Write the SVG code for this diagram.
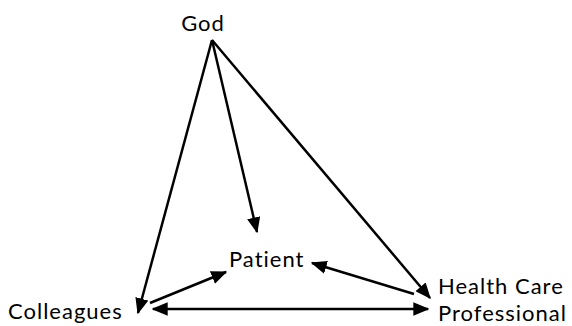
<svg xmlns="http://www.w3.org/2000/svg" width="572" height="326" viewBox="0 0 572 326">
<style>
text{font-family:"Lato","Open Sans","Liberation Sans",sans-serif;font-size:22px;letter-spacing:1px;fill:#000}
.c{stroke:#000;stroke-width:2.5;fill:none}
</style>
<defs>
<marker id="ah" viewBox="0 0 12 10" refX="11" refY="5" markerWidth="6.4" markerHeight="5.4" orient="auto-start-reverse" markerUnits="strokeWidth">
<path d="M0,0L12,5L0,10z" fill="#000"/>
</marker>
</defs>
<rect width="572" height="326" fill="#fff"/>
<g id="connectors">
<line class="c" x1="212" y1="40" x2="138" y2="313" marker-end="url(#ah)"/>
<line class="c" x1="212" y1="40" x2="257" y2="232" marker-end="url(#ah)"/>
<line class="c" x1="212" y1="40" x2="430" y2="298" marker-end="url(#ah)"/>
<line class="c" x1="150" y1="303" x2="226" y2="272" marker-end="url(#ah)"/>
<line class="c" x1="414" y1="294" x2="312" y2="263" marker-end="url(#ah)"/>
<line class="c" x1="153" y1="309" x2="428" y2="309" marker-start="url(#ah)" marker-end="url(#ah)"/>
</g>
<g id="god"><text x="203" y="31" text-anchor="middle">God</text></g>
<g id="patient"><text x="229" y="267">Patient</text></g>
<g id="colleagues"><text x="8" y="319">Colleagues</text></g>
<g id="hcp"><text x="438" y="294">Health Care</text><text x="438" y="321">Professional</text></g>
</svg>
